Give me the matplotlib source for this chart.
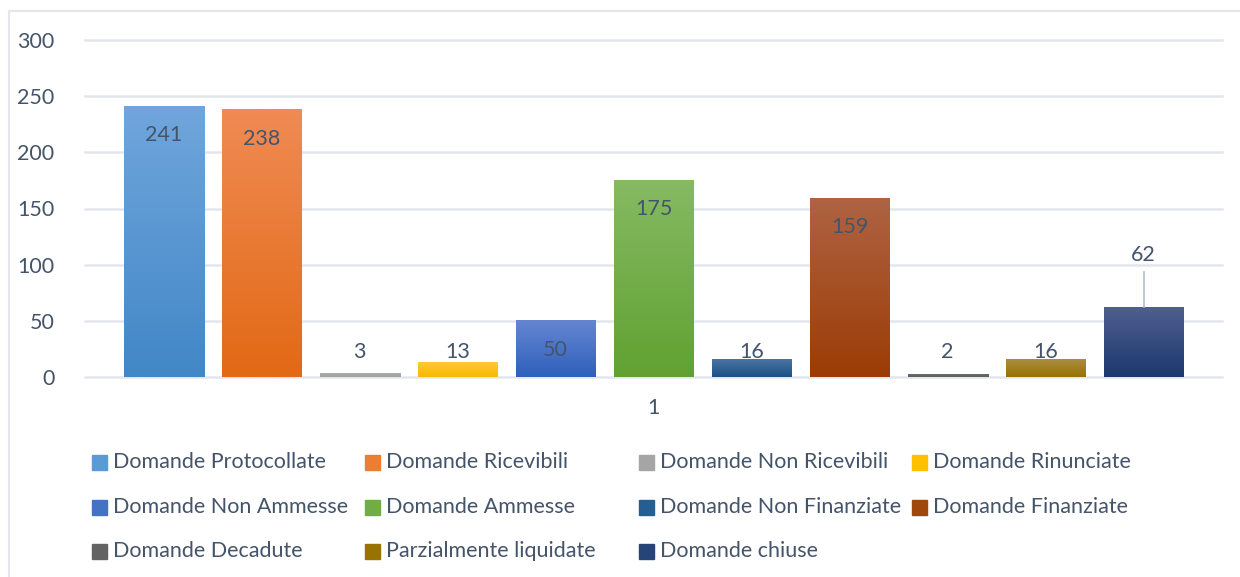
import numpy as np
import matplotlib
matplotlib.use("Agg")
from matplotlib import pyplot as plt
from matplotlib.colors import LinearSegmentedColormap
from matplotlib.patches import Rectangle

plt.rcParams['font.family'] = ['Lato', 'DejaVu Sans']

categories = ["Domande Protocollate", "Domande Ricevibili", "Domande Non Ricevibili",
              "Domande Rinunciate", "Domande Non Ammesse", "Domande Ammesse",
              "Domande Non Finanziate", "Domande Finanziate", "Domande Decadute",
              "Parzialmente liquidate", "Domande chiuse"]
values = [241, 238, 3, 13, 50, 175, 16, 159, 2, 16, 62]
x_labels = ["1"]
y_ticks = [0, 50, 100, 150, 200, 250, 300]

# (top, bottom) gradient colours, legend uses the middle one
top_colors = ["#70A6DC", "#F08B54", "#ABABAB", "#FFCA35", "#6586D1", "#86BA63",
              "#4B75A1", "#AF6343", "#6A6A6A", "#AA8D44", "#4F5F8E"]
bot_colors = ["#4287C7", "#E26915", "#A0A0A0", "#F7B900", "#2E60BC", "#61A131",
              "#1A5086", "#9B3C05", "#5E5E5E", "#987200", "#1C386E"]
mid_colors = ["#5B9BD5", "#ED7D31", "#A5A5A5", "#FFC000", "#4472C4", "#70AD47",
              "#255E91", "#9E480E", "#636363", "#997300", "#264478"]

txt = "#44546A"
W, H = 1240, 577
fig = plt.figure(figsize=(W / 100, H / 100), dpi=100)
ax = fig.add_axes([85 / W, (H - 377) / H, (1222 - 85) / W, (377 - 40) / H])

span = 1222 - 85
bw = 80 / span
step = 98 / span
n = len(values)
grad = np.linspace(0, 1, 256).reshape(-1, 1)
px = 300 / 337  # data units per pixel

for i, v in enumerate(values):
    xc = (i - (n - 1) / 2) * step
    cmap = LinearSegmentedColormap.from_list("g%d" % i, [bot_colors[i], top_colors[i]])
    ax.imshow(grad, extent=[xc - bw / 2, xc + bw / 2, 0, v], origin="lower",
              cmap=cmap, aspect="auto", zorder=3, interpolation="bilinear")
    if v >= 40 and v != 62:
        ly = v - 29 * px
    elif v == 62:
        # label pushed above the bar, with a leader line
        ly = v + 52 * px
        ax.plot([xc, xc], [v, v + 35 * px], color="#B4BECB", lw=1.2, zorder=4)
    else:
        ly = 22.3
    ax.text(xc, ly, str(v), ha="center", va="center", fontsize=15.5, color=txt, zorder=5)

ax.set_xlim(-0.5, 0.5)
ax.set_ylim(0, 300)
ax.set_yticks(y_ticks)
ax.set_xticks([0])
ax.set_xticklabels(x_labels)
ax.tick_params(axis="both", length=0, labelsize=15.5, labelcolor=txt)
ax.tick_params(axis="x", pad=15)
ax.tick_params(axis="y", pad=22)
for s in ax.spines.values():
    s.set_visible(False)
ax.grid(axis="y", color="#E2E6EC", lw=1.8, zorder=0)
ax.set_axisbelow(True)
for gl in ax.get_ygridlines():
    gl.set_clip_on(False)

# chart border
fig.patches.append(Rectangle((8.5 / W, -0.1), 1.2, (H - 10.5) / H + 0.1,
                             transform=fig.transFigure, fill=False,
                             edgecolor="#E3E7ED", lw=1.5))

# legend laid out row-wise on a fixed grid, like Excel
col_w = 273.4
row_y = [462, 507, 551]
for k, name in enumerate(categories):
    r, c = divmod(k, 4)
    x0 = 92 + c * col_w
    yc = row_y[r]
    fig.patches.append(Rectangle((x0 / W, (H - yc - 7.5) / H), 15 / W, 15 / H,
                                 transform=fig.transFigure, color=mid_colors[k]))
    fig.text((x0 + 21) / W, (H - yc) / H, name, ha="left", va="center",
             fontsize=15.5, color=txt)

fig.savefig("out.png", dpi=100)
